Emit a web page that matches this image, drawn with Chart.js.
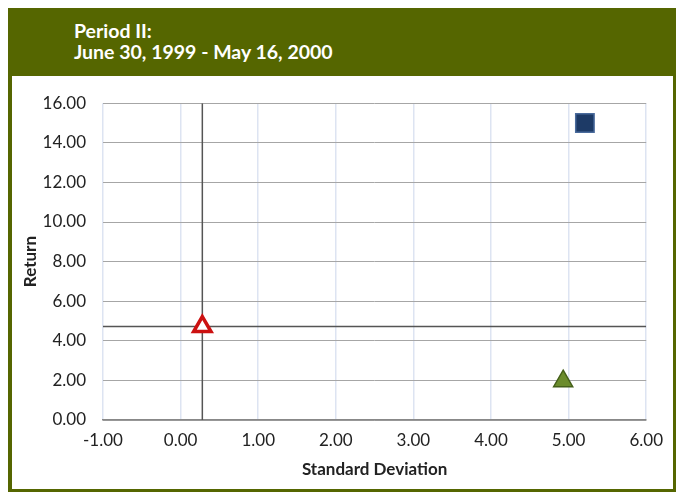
<!DOCTYPE html>
<html><head><meta charset="utf-8">
<script src="https://cdn.jsdelivr.net/npm/chart.js@4"></script>
<style>
html,body{margin:0;padding:0;background:#fff;}
#frame{position:absolute;left:8px;top:8px;width:668px;height:484px;background:#556600;}
#title{position:absolute;left:66px;top:12px;color:#fff;font-family:Lato,"Open Sans",sans-serif;font-weight:bold;font-size:19.5px;line-height:21px;}
#panel{position:absolute;left:4px;top:68px;width:661px;height:413px;background:#fff;}
canvas{display:block;}
</style></head>
<body>
<div id="frame">
<div id="title">Period II:<br>June 30, 1999 - May 16, 2000</div>
<div id="panel"><canvas id="c" width="661" height="413"></canvas></div>
</div>
<script>
const stdDev = [5.21, 4.93, 0.28];
const returns = [15.0, 1.96, 4.72];
const crossX = 0.28;
const crossY = 4.72;
const xTicks = [-1, 0, 1, 2, 3, 4, 5, 6];
const yTicks = [0, 2, 4, 6, 8, 10, 12, 14, 16];

const font = {family: 'Lato, "Open Sans", sans-serif'};
new Chart(document.getElementById('c'), {
  type: 'scatter',
  data: {
    datasets: [
      {data: [{x: crossX, y: yTicks[0]}, {x: crossX, y: yTicks[yTicks.length-1]}], showLine: true, borderColor: '#555', borderWidth: 1.5, pointRadius: 0, order: 5},
      {data: [{x: xTicks[0], y: crossY}, {x: xTicks[xTicks.length-1], y: crossY}], showLine: true, borderColor: '#555', borderWidth: 1.5, pointRadius: 0, order: 5},
      {data: [{x: stdDev[0], y: returns[0]}], pointStyle: 'rect', pointRadius: 13, backgroundColor: '#1d3a66', borderColor: '#4a6b9c', borderWidth: 1.5, order: 1},
      {data: [{x: stdDev[1], y: returns[1]}], pointStyle: 'triangle', pointRadius: 11, backgroundColor: '#6b8c2c', borderColor: '#45601a', borderWidth: 1.5, order: 1},
      {data: [{x: stdDev[2], y: returns[2]}], pointStyle: 'triangle', pointRadius: 10, backgroundColor: '#ffffff', borderColor: '#cc1111', borderWidth: 3.5, order: 1}
    ]
  },
  options: {
    responsive: false, animation: false,
    layout: {padding: {top: 25, right: 26, left: 8, bottom: 0}},
    plugins: {legend: {display: false}, tooltip: {enabled: false}},
    scales: {
      x: {type: 'linear', min: xTicks[0], max: xTicks[xTicks.length-1],
        afterBuildTicks: a => { a.ticks = xTicks.map(v => ({value: v})); },
        afterFit: s => { s.height = 69; },
        ticks: {color: '#222', font: {...font, size: 17}, padding: 10, callback: v => v.toFixed(2)},
        grid: {color: '#dde4f2', lineWidth: 1.5, drawTicks: false},
        border: {color: '#888', width: 1.5},
        title: {display: true, text: 'Standard Deviation', color: '#222', font: {...font, size: 17, weight: 'bold'}, padding: {top: 9, bottom: 9}}
      },
      y: {type: 'linear', min: yTicks[0], max: yTicks[yTicks.length-1],
        afterBuildTicks: a => { a.ticks = yTicks.map(v => ({value: v})); },
        afterFit: s => { s.width = 83; },
        ticks: {color: '#222', font: {...font, size: 17}, padding: 17, callback: v => v.toFixed(2)},
        grid: {color: '#a6a6a6', lineWidth: 1, drawTicks: false},
        border: {display: false},
        title: {display: true, text: 'Return', color: '#222', font: {...font, size: 17, weight: 'bold'}, padding: {top: 0, bottom: 0}}
      }
    }
  }
});
</script>
</body></html>
